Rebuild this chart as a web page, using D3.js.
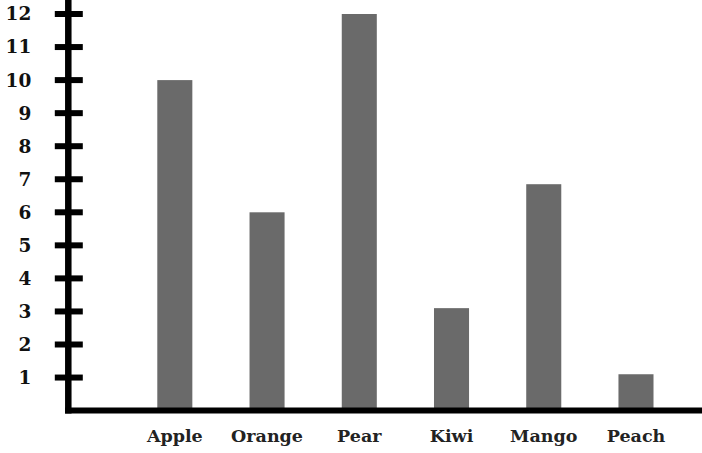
<!DOCTYPE html>
<html>
<head>
<meta charset="utf-8">
<script src="https://cdn.jsdelivr.net/npm/d3@7"></script>
<style>
  html, body { margin: 0; padding: 0; background: #fff; }
  svg { display: block; }
</style>
</head>
<body>
<svg id="chart" width="702" height="453"></svg>
<script>
const categories = ["Apple", "Orange", "Pear", "Kiwi", "Mango", "Peach"];
const values = [10, 6, 12, 3.1, 6.85, 1.1];
const yTickValues = [1, 2, 3, 4, 5, 6, 7, 8, 9, 10, 11, 12];

const svg = d3.select("#chart");
const axisX = 68.3;
const baseY = 410.6;

const x = d3.scaleBand()
  .domain(categories)
  .range([128.7, 682.1])
  .paddingInner(0.62)
  .paddingOuter(0.31);

const y = d3.scaleLinear()
  .domain([0, 12])
  .range([baseY, 14]);

// bars
svg.append("g")
  .selectAll("rect")
  .data(categories.map((c, i) => ({ c, v: values[i] })))
  .join("rect")
  .attr("x", d => x(d.c))
  .attr("width", x.bandwidth())
  .attr("y", d => y(d.v))
  .attr("height", d => baseY - y(d.v))
  .attr("fill", "#6a6a6a");

// y axis labels via d3 axis
const yAxis = svg.append("g")
  .attr("transform", `translate(${axisX},0)`)
  .call(d3.axisLeft(y).tickValues(yTickValues).tickSize(0).tickPadding(37));
yAxis.select(".domain").remove();
yAxis.selectAll("text")
  .attr("font-family", "DejaVu Serif")
  .attr("font-weight", "bold")
  .attr("font-size", 18.5)
  .attr("fill", "#111");

// cross ticks
svg.append("g")
  .selectAll("line")
  .data(yTickValues)
  .join("line")
  .attr("x1", axisX - 13.5)
  .attr("x2", axisX + 14.5)
  .attr("y1", d => y(d))
  .attr("y2", d => y(d))
  .attr("stroke", "#000")
  .attr("stroke-width", 6);

// axis lines
svg.append("line")
  .attr("x1", axisX).attr("x2", axisX)
  .attr("y1", 0).attr("y2", baseY + 3)
  .attr("stroke", "#000").attr("stroke-width", 6.5);
svg.append("line")
  .attr("x1", axisX - 3.25).attr("x2", 702)
  .attr("y1", baseY).attr("y2", baseY)
  .attr("stroke", "#000").attr("stroke-width", 6);

// x axis labels via d3 axis
const xAxis = svg.append("g")
  .attr("transform", `translate(0,${baseY})`)
  .call(d3.axisBottom(x).tickSize(0).tickPadding(19));
xAxis.select(".domain").remove();
xAxis.selectAll("text")
  .attr("font-family", "DejaVu Serif")
  .attr("font-weight", "bold")
  .attr("font-size", 17.5)
  .attr("fill", "#222");
</script>
</body>
</html>
